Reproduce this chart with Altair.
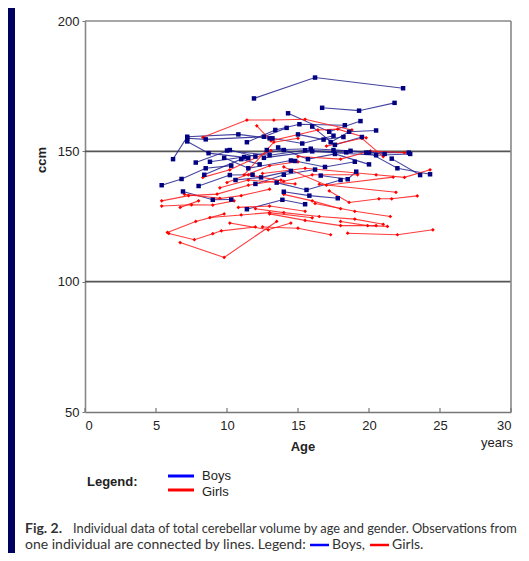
import altair as alt
import pandas as pd

# ---------------- data ----------------
boy_ages = [
    [11.9, 16.2, 22.4], [16.7, 19.3, 21.8], [6.2, 7.2, 10.8, 13.0], [7.2, 8.7, 11.5],
    [7.2, 8.5, 12.6, 14.2], [14.3, 17.2, 19.4], [11.4, 13.4, 15.1, 18.3], [12.6, 16.0, 20.5, 22.9],
    [10.0, 13.0, 15.5, 18.4], [8.8, 11.2, 14.0], [7.8, 10.2, 12.0], [5.4, 6.8, 8.5, 10.3],
    [8.0, 10.2, 11.8], [6.9, 9.0, 10.3], [13.5, 15.6, 18.0], [11.4, 13.9, 15.5],
    [14.0, 15.8, 17.8], [16.6, 18.5, 19.1], [20.0, 22.0, 24.3], [21.6, 23.6],
    [12.8, 15.9, 18.7, 21.1], [13.2, 15.3, 17.5], [14.8, 16.9, 19.0], [9.8, 11.5, 14.5],
    [16.0, 17.6, 19.5], [10.6, 12.4, 14.5], [12.0, 14.0, 16.2], [17.3, 18.6, 20.5],
    [13.6, 15.7, 17.6, 20.0], [8.4, 11.0, 12.3], [17.5, 19.8, 22.8], [15.0, 16.8, 18.2],
]
boy_ccm = [
    [170.3, 178.3, 174.2], [166.7, 165.6, 168.6], [147.0, 155.6, 156.5, 155.0], [153.8, 149.3, 147.5],
    [155.0, 154.6, 155.6, 159.0], [164.6, 157.5, 161.6], [153.5, 158.2, 160.4, 160.0], [147.5, 150.0, 148.5, 149.0],
    [150.3, 148.5, 150.4, 149.6], [146.0, 147.8, 150.5], [145.7, 150.5, 148.0], [137.0, 139.4, 143.5, 144.5],
    [136.7, 140.9, 141.0], [134.6, 131.4, 131.5], [138.0, 135.2, 139.0], [127.8, 131.4, 129.7],
    [134.5, 133.0, 132.0], [140.7, 139.3, 142.2], [149.5, 143.5, 141.2], [147.2, 140.9],
    [150.5, 151.0, 150.2, 149.0], [155.0, 153.0, 156.0], [146.3, 144.0, 146.0], [147.5, 143.5, 146.5],
    [159.5, 152.5, 155.5], [139.0, 140.0, 142.5], [137.5, 141.0, 143.0], [153.5, 157.5, 158.0],
    [151.5, 147.0, 149.0, 145.0], [141.0, 147.0, 145.0], [150.5, 149.5, 149.5], [156.5, 154.5, 155.5],
]
girl_ages = [
    [8.3, 11.4, 13.3, 15.5, 18.8], [12.1, 13.1, 16.4, 17.8, 19.8], [5.4, 7.3, 9.3, 11.5, 13.8],
    [5.4, 7.5, 9.0, 10.5], [5.8, 7.8, 9.8], [5.9, 7.7, 9.0, 9.6, 12.0], [6.7, 9.8, 13.5],
    [8.8, 11.0, 13.0, 16.0], [10.2, 12.9, 14.5], [16.5, 21.9], [17.2, 18.6, 20.7, 21.6, 23.4],
    [18.5, 22.0, 24.5], [18.0, 19.9, 21.3], [12.5, 15.0, 17.3], [12.0, 14.0, 16.5, 19.0, 21.0],
    [13.0, 15.5, 18.0, 20.5], [11.5, 14.0, 16.0, 19.2], [10.0, 13.0, 15.0],
    [12.5, 15.5, 20.5, 22.5, 24.3], [14.0, 17.0, 21.7], [9.5, 11.5, 14.8], [15.0, 18.0, 20.1, 22.5],
    [14.0, 16.0, 18.0], [16.2, 19.0, 21.5], [9.0, 11.0, 13.0], [7.0, 9.5], [17.0, 19.5, 21.0],
    [10.8, 13.0, 15.5], [8.3, 10.2, 13.1], [11.2, 13.3, 15.0], [6.7, 8.0],
]
girl_ccm = [
    [155.4, 162.0, 162.0, 162.3, 158.2], [159.8, 154.0, 158.2, 158.5, 155.2], [131.0, 133.0, 133.6, 137.0, 139.0],
    [129.0, 129.5, 129.4, 131.0], [118.9, 123.1, 126.0], [118.5, 116.1, 118.4, 119.5, 121.0], [115.0, 109.3, 123.1],
    [124.6, 125.6, 126.5, 124.5], [122.5, 119.9, 122.5], [137.4, 134.3], [134.8, 130.4, 131.8, 131.8, 132.9],
    [118.6, 118.0, 119.9], [123.1, 121.5, 121.2], [121.0, 120.5, 118.0], [128.0, 126.5, 125.0, 124.0, 122.0],
    [126.0, 123.5, 121.5, 121.5], [141.0, 138.5, 141.0, 141.0], [138.0, 144.5, 146.0],
    [141.5, 143.5, 141.0, 140.0, 142.9], [144.0, 137.0, 140.1], [136.0, 139.0, 137.5], [148.0, 147.0, 150.1, 149.5],
    [133.5, 131.0, 128.0], [130.0, 127.0, 125.0], [131.5, 133.0, 135.5], [133.5, 132.0], [152.0, 155.0, 148.0],
    [128.5, 129.0, 127.0], [140.0, 142.9, 150.3], [141.0, 153.5, 155.0], [128.5, 131.0],
]
x_ticks = [0, 5, 10, 15, 20, 25, 30]
y_ticks = [50, 100, 150, 200]
grid_lines = [100, 150]
frame_top = [200]
frame_right = [30]

# ---------------- tables ----------------
rows = []
for i, (ages, vals) in enumerate(zip(boy_ages, boy_ccm)):
    for a, v in zip(ages, vals):
        rows.append({"id": f"b{i}", "sex": "Boys", "age": a, "ccm": v})
for i, (ages, vals) in enumerate(zip(girl_ages, girl_ccm)):
    for a, v in zip(ages, vals):
        rows.append({"id": f"g{i}", "sex": "Girls", "age": a, "ccm": v})
df = pd.DataFrame(rows)
one = pd.DataFrame({"k": [0]})

W, H = 426, 391
OX, OY = 85, 21  # page position of plot origin

xs = alt.Scale(domain=[0, 30], nice=False, zero=False)
ys = alt.Scale(domain=[50, 200], nice=False, zero=False)
x_axis = alt.Axis(values=x_ticks, ticks=False, grid=False, title=None, domainColor="#777",
                  domainWidth=1.5, labelFontSize=13, labelPadding=7, labelColor="#222",
                  labelFont="Liberation Sans")
y_axis = alt.Axis(values=y_ticks, grid=False, title=None, tickSize=3, tickColor="#777",
                  domainColor="#888", domainWidth=1.6, labelFontSize=13, labelPadding=3,
                  labelColor="#222", labelFont="Liberation Sans")


def X(f):
    return alt.X(f, scale=xs, axis=x_axis)


def Y(f):
    return alt.Y(f, scale=ys, axis=y_axis)


base = alt.Chart(df)

lines = base.mark_line(strokeWidth=1.1, opacity=0.85).encode(
    x=X("age:Q"), y=Y("ccm:Q"),
    detail="id:N",
    color=alt.Color("sex:N", scale=alt.Scale(domain=["Boys", "Girls"], range=["#23238f", "#ff1a1a"]), legend=None),
    order="age:Q",
)
boys_pts = base.transform_filter(alt.datum.sex == "Boys").mark_square(size=20, color="#000080", opacity=1).encode(
    x=X("age:Q"), y=Y("ccm:Q"))
girls_pts = base.transform_filter(alt.datum.sex == "Girls").mark_point(
    shape="diamond", size=14, filled=True, color="#ff0000", opacity=1).encode(
    x=X("age:Q"), y=Y("ccm:Q"))

grid = alt.Chart(pd.DataFrame({"ccm": grid_lines})).mark_rule(color="#555", strokeWidth=1.6).encode(
    y=Y("ccm:Q"))
top = alt.Chart(pd.DataFrame({"ccm": frame_top})).mark_rule(color="#888", strokeWidth=1.6).encode(
    y=Y("ccm:Q"))
right = alt.Chart(pd.DataFrame({"age": frame_right})).mark_rule(color="#888", strokeWidth=1.6).encode(
    x=X("age:Q"))
xtick = alt.Chart(pd.DataFrame({"age": x_ticks})).mark_rule(color="#777", strokeWidth=1.2).encode(
    x=X("age:Q"), y=alt.value(H - 4), y2=alt.value(H))

strip = alt.Chart(one).mark_rect(color="#000060").encode(
    x=alt.value(8 - OX), x2=alt.value(15 - OX), y=alt.value(8 - OY), y2=alt.value(561 - OY))


def txt(s, px, py, size=13, weight="normal", align="left", angle=0, color="#222",
        font="Liberation Sans"):
    return alt.Chart(one).mark_text(text=s, fontSize=size, fontWeight=weight, align=align, angle=angle,
                                    color=color, font=font, baseline="middle").encode(
        x=alt.value(px - OX), y=alt.value(py - OY))


def seg(x1, x2, py, color, w):
    return alt.Chart(one).mark_rule(color=color, strokeWidth=w).encode(
        x=alt.value(x1 - OX), x2=alt.value(x2 - OX), y=alt.value(py - OY))


cf = "Lato"
cc = "#333"

texts = [
    txt("ccm", 42, 160, weight="bold", align="center", angle=270),
    txt("Age", 303, 447, weight="bold", align="center"),
    txt("years", 497, 443, align="center"),
    txt("Legend:", 87, 482, weight="bold"),
    seg(168, 194, 476, "#0000ff", 3),
    txt("Boys", 202, 476),
    seg(168, 194, 490, "#ff0000", 3),
    txt("Girls", 202, 492),
    txt("Fig. 2.", 25, 529, size=14, weight="bold", font=cf, color=cc),
    txt("Individual data of total cerebellar volume by age and gender. Observations from", 73, 529,
        size=12.8, font=cf, color=cc),
    txt("one individual are connected by lines. Legend:", 25, 545, size=14, font=cf, color=cc),
    seg(310, 329, 545, "#0000ff", 2.5),
    txt("Boys,", 332, 545, size=14, font=cf, color=cc),
    seg(370, 389, 545, "#ff0000", 2.5),
    txt("Girls.", 392, 545, size=14, font=cf, color=cc),
]

chart = alt.layer(strip, grid, top, right, xtick, lines, girls_pts, boys_pts, *texts).properties(
    width=W, height=H,
    autosize=alt.AutoSizeParams(type="none"),
    padding={"left": 77, "top": 13, "right": 10, "bottom": 141},
    background="white",
).configure_view(strokeWidth=0)

chart.save("out.html", embed_options={"renderer": "svg", "actions": False})
